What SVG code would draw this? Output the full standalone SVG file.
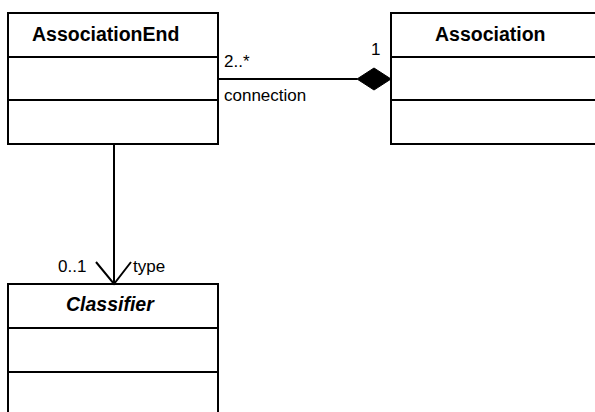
<svg xmlns="http://www.w3.org/2000/svg" width="595" height="412" viewBox="0 0 595 412">
  <style>
    .box { fill: #ffffff; stroke: #000000; stroke-width: 2; }
    .sep { stroke: #000000; stroke-width: 2; }
    .edge { fill: none; stroke: #000000; stroke-width: 2; }
    .title { font-family: "Liberation Sans", Arial, sans-serif; font-size: 19.5px; font-weight: bold; fill: #000000; }
    .abstract { font-style: italic; }
    .lbl { font-family: "Liberation Sans", Arial, sans-serif; font-size: 17px; fill: #000000; }
  </style>
  <rect width="595" height="412" fill="#ffffff"/>

  <g id="AssociationEnd">
    <rect class="box" x="8" y="13" width="210" height="131"/>
    <line class="sep" x1="8" y1="57" x2="218" y2="57"/>
    <line class="sep" x1="8" y1="100" x2="218" y2="100"/>
    <text class="title" x="32" y="41">AssociationEnd</text>
  </g>

  <g id="Association">
    <rect class="box" x="391" y="13" width="210" height="131"/>
    <line class="sep" x1="391" y1="57" x2="601" y2="57"/>
    <line class="sep" x1="391" y1="100" x2="601" y2="100"/>
    <text class="title" x="435" y="41">Association</text>
  </g>

  <g id="Classifier">
    <rect class="box" x="8" y="284" width="210" height="140"/>
    <line class="sep" x1="8" y1="328" x2="218" y2="328"/>
    <line class="sep" x1="8" y1="372" x2="218" y2="372"/>
    <text class="title abstract" x="66" y="311">Classifier</text>
  </g>

  <g id="connectors">
    <!-- composition: AssociationEnd (2..*) to Association (1) -->
    <line class="edge" x1="218" y1="79" x2="357" y2="79"/>
    <polygon points="357,79 374,68 391,79 374,90" fill="#000000" stroke="#000000" stroke-width="1"/>
    <text class="lbl" x="224" y="67">2..*</text>
    <text class="lbl" x="224" y="101">connection</text>
    <text class="lbl" x="371" y="55">1</text>

    <!-- navigable association: AssociationEnd to Classifier -->
    <line class="edge" x1="114" y1="144" x2="114" y2="284"/>
    <polyline class="edge" points="96,262 114,284 131,262"/>
    <text class="lbl" x="58" y="272">0..1</text>
    <text class="lbl" x="133" y="272">type</text>
  </g>
</svg>
